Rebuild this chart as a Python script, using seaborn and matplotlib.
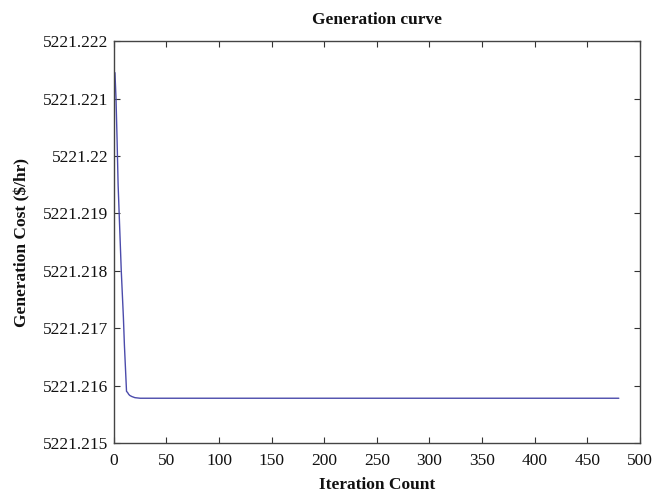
import matplotlib
matplotlib.use("Agg")
import matplotlib.pyplot as plt
import seaborn as sns
import pandas as pd
from matplotlib.ticker import FixedLocator, FixedFormatter

iterations = [1, 2, 3, 4, 5, 6, 7, 8, 9, 10, 11, 12, 13, 14, 15, 17, 20, 25, 480]
cost = [5221.22145, 5221.2210, 5221.2203, 5221.2195, 5221.2190, 5221.2185,
        5221.2180, 5221.2176, 5221.2172, 5221.2167, 5221.2163, 5221.2159,
        5221.21588, 5221.21585, 5221.21583, 5221.21581, 5221.21579,
        5221.21578, 5221.21578]

xticks = [0, 50, 100, 150, 200, 250, 300, 350, 400, 450, 500]
yticks = [5221.215, 5221.216, 5221.217, 5221.218, 5221.219, 5221.220, 5221.221, 5221.222]
ytick_labels = ["5221.215", "5221.216", "5221.217", "5221.218", "5221.219",
                "5221.22", "5221.221", "5221.222"]

title = "Generation curve"
xlabel = "Iteration Count"
ylabel = "Generation Cost ($/hr)"

sns.set_theme(style="white")
plt.rcParams['font.family'] = ['Liberation Serif', 'DejaVu Serif']
plt.rcParams['mathtext.default'] = 'regular'

df = pd.DataFrame({"iter": iterations, "cost": cost})

fig = plt.figure(figsize=(6.7, 4.95), dpi=100)
ax = fig.add_axes([0.170, 0.105, 0.785, 0.812])
sns.lineplot(data=df, x="iter", y="cost", ax=ax, color="#4b4bab", linewidth=1.0)

ax.set_xlim(0, 500)
ax.set_ylim(5221.215, 5221.222)
ax.xaxis.set_major_locator(FixedLocator(xticks))
ax.yaxis.set_major_locator(FixedLocator(yticks))
ax.yaxis.set_major_formatter(FixedFormatter(ytick_labels))
ax.set_xticklabels([str(t) for t in xticks])

ax.tick_params(axis='both', which='major', direction='in', length=4, width=0.8,
               color='#333333', labelsize=12.5, labelcolor='#111111',
               top=True, right=True, bottom=True, left=True)
ax.tick_params(axis='x', pad=7)
ax.tick_params(axis='y', pad=4)
for s in ax.spines.values():
    s.set_color('#444444')
    s.set_linewidth(1.0)

ax.set_title(title.replace('$', r'\$'), fontsize=12.5, fontweight='bold', pad=12, color='#111111')
ax.set_xlabel(xlabel, fontsize=12.5, fontweight='bold', labelpad=6, color='#111111')
ax.set_ylabel(ylabel.replace('$', r'\$'), fontsize=12.5, fontweight='bold', labelpad=9, color='#111111')

fig.savefig("out.png", dpi=100, facecolor='white')
